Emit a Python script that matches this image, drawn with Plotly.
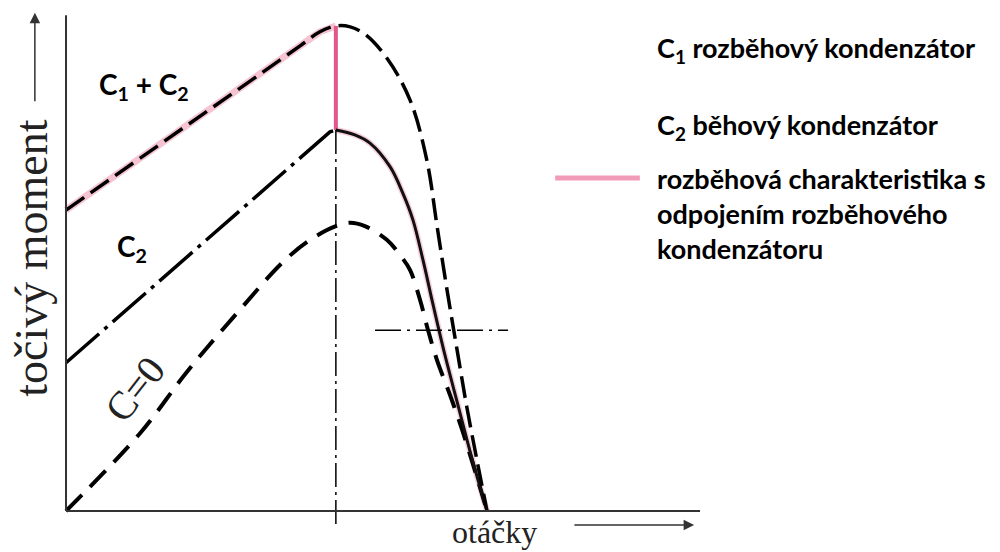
import plotly.graph_objects as go

# otáčky v % synchronních otáček, točivý moment v % maxima
c12_x = [0, 55.6, 60.3, 64.1, 67.5, 71.0, 76.2, 81.7, 85.7, 88.1, 90.5, 92.9, 95.2, 97.6, 100]
c12_y = [61.9, 95.7, 98.6, 99.8, 99.6, 98.1, 93.2, 84.6, 72.2, 58.8, 45.5, 33.1, 21.4, 10.5, 0]

c2_x = [0, 62.7, 64.1, 68.6, 72.2, 77.0, 80.0, 82.4, 84.8, 87.2, 90.0, 93.1, 96.4, 100]
c2_y = [30.5, 78.0, 78.4, 77.4, 75.7, 70.8, 65.4, 59.9, 51.6, 42.4, 32.1, 21.8, 10.9, 0]

c0_x = [0, 17.6, 28.7, 41.3, 51.5, 58.0, 64.1, 67.5, 71.0, 76.2, 79.3, 81.7, 84.1, 86.0, 88.1, 91.2, 94.1, 97.1, 100]
c0_y = [0, 16.0, 28.6, 41.4, 51.2, 55.8, 58.6, 59.3, 58.6, 55.8, 52.7, 49.6, 43.4, 37.2, 31.1, 23.9, 16.7, 8.4, 0]

switch_speed = 64.1   # odpojení rozběhového kondenzátoru
load_torque = 37.2    # zatěžovací moment
load_span = [73.4, 105.0]

legend_lines = [
    "C<sub>1</sub> rozběhový kondenzátor",
    "C<sub>2</sub> běhový kondenzátor",
    "rozběhová charakteristika s",
    "odpojením rozběhového",
    "kondenzátoru",
]
legend_y = [95.0, 79.2, 68.5, 61.3, 54.1]

PINK = "#f29bb8"
PINK_DARK = "#e2578c"
SANS = "Lato"
SERIF = "Liberation Serif"

# rozběhová charakteristika: C1+C2 do bodu přepnutí, pak C2
c12_peak_y = c12_y[c12_x.index(switch_speed)]
c2_peak_y = c2_y[c2_x.index(switch_speed)]
start_left_x = [x for x in c12_x if x <= switch_speed]
start_left_y = [y for x, y in zip(c12_x, c12_y) if x <= switch_speed]
start_right_x = [x for x in c2_x if x >= switch_speed]
start_right_y = [y for x, y in zip(c2_x, c2_y) if x >= switch_speed]

fig = go.Figure()

# růžový podklad rozběhové charakteristiky
fig.add_trace(go.Scatter(x=start_left_x, y=start_left_y, mode="lines",
                         line=dict(color="#f5c3d2", width=7)))
fig.add_trace(go.Scatter(x=start_right_x, y=start_right_y, mode="lines", line_shape="spline",
                         line=dict(color="#f7cfdb", width=6)))
fig.add_trace(go.Scatter(x=[switch_speed, switch_speed], y=[c12_peak_y, c2_peak_y], mode="lines",
                         line=dict(color=PINK_DARK, width=4)))

# C = 0
fig.add_trace(go.Scatter(x=c0_x, y=c0_y, mode="lines", line_shape="spline",
                         line=dict(color="black", width=4, dash="22px,12px")))

# C2 - čerchovaně do bodu přepnutí, dál plná
c2_left_x = [x for x in c2_x if x <= switch_speed]
c2_left_y = [y for x, y in zip(c2_x, c2_y) if x <= switch_speed]
fig.add_trace(go.Scatter(x=c2_left_x, y=c2_left_y, mode="lines",
                         line=dict(color="black", width=3.5, dash="44px,7px,4px,7px")))
fig.add_trace(go.Scatter(x=start_right_x, y=start_right_y, mode="lines", line_shape="spline",
                         line=dict(color="#111", width=3)))

# C1 + C2
fig.add_trace(go.Scatter(x=c12_x, y=c12_y, mode="lines", line_shape="spline",
                         line=dict(color="black", width=3.5, dash="22px,8px")))

# pomocné čerchované čáry
fig.add_trace(go.Scatter(x=[switch_speed, switch_speed], y=[c2_peak_y, -3.4], mode="lines",
                         line=dict(color="black", width=1.5, dash="24px,5px,3px,5px")))
fig.add_trace(go.Scatter(x=load_span, y=[load_torque, load_torque], mode="lines",
                         line=dict(color="black", width=1.5, dash="26px,6px,3px,6px")))

# osy
fig.add_shape(type="line", x0=0, y0=0, x1=0, y1=102, line=dict(color="#333", width=2))
fig.add_shape(type="line", x0=0, y0=0, x1=150.6, y1=0, line=dict(color="#333", width=2))

# růžová značka legendy
fig.add_shape(type="line", x0=116.2, y0=68.5, x1=136.3, y1=68.5, line=dict(color=PINK, width=5))

# popisky os se šipkami
fig.add_annotation(x=-7.4, y=102.5, ax=-7.4, ay=84, xref="x", yref="y", axref="x", ayref="y",
                   text="", showarrow=True, arrowhead=2, arrowsize=1.4, arrowwidth=1.5, arrowcolor="#333")
fig.add_annotation(x=-8.2, y=52.0, text="točivý moment", textangle=-90, showarrow=False,
                   font=dict(family=SERIF, size=46, color="#222"))
fig.add_annotation(x=101.7, y=-4.4, text="otáčky", showarrow=False,
                   font=dict(family=SERIF, size=32, color="#222"))
fig.add_annotation(x=149.2, y=-2.9, ax=120.4, ay=-2.9, xref="x", yref="y", axref="x", ayref="y",
                   text="", showarrow=True, arrowhead=2, arrowsize=1.4, arrowwidth=1.5, arrowcolor="#333")

# popisky křivek
fig.add_annotation(x=7.4, y=87.5, text="C<sub>1</sub> + C<sub>2</sub>", xanchor="left", showarrow=False,
                   font=dict(family=SANS, size=28, color="black", weight="bold"))
fig.add_annotation(x=11.6, y=54.1, text="C<sub>2</sub>", xanchor="left", showarrow=False,
                   font=dict(family=SANS, size=28, color="black", weight="bold"))
fig.add_annotation(x=16.4, y=24.9, text="C=0", textangle=-52, showarrow=False,
                   font=dict(family=SERIF, size=40, color="#222"))

# legenda vpravo
for txt, yy in zip(legend_lines, legend_y):
    fig.add_annotation(x=139.9, y=yy, text=txt, xanchor="left", showarrow=False,
                       font=dict(family=SANS, size=27, color="black", weight="bold"))

fig.update_layout(
    width=1000, height=552,
    margin=dict(t=0, b=0, l=0, r=0),
    paper_bgcolor="white", plot_bgcolor="white",
    showlegend=False,
    xaxis=dict(visible=False, range=[-15.68, 221.85], fixedrange=True),
    yaxis=dict(visible=False, range=[-8.44, 105.14], fixedrange=True),
)

fig.write_html("out.html", config={"displayModeBar": False},
               post_script="document.body.style.margin='0';")
